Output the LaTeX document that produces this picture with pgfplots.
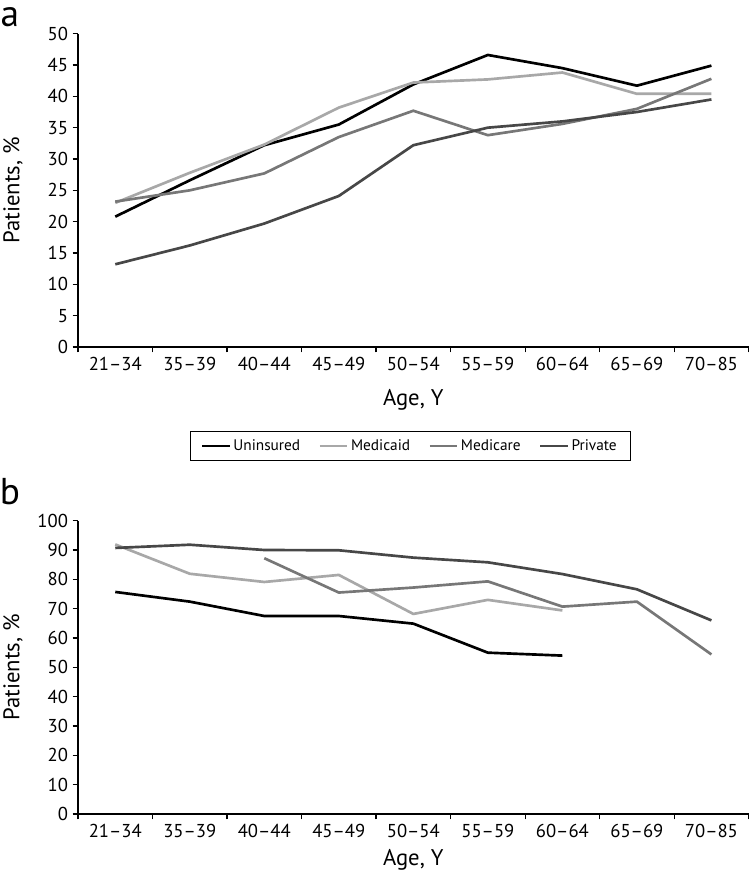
\documentclass[border=0pt]{standalone}
\usepackage{pgfplots}
\pgfplotsset{compat=1.18}
\usepackage{fontspec}
\setmainfont{PT Sans}

\definecolor{cUnins}{HTML}{000000}
\definecolor{cMedicaid}{HTML}{A8A8A8}
\definecolor{cMedicare}{HTML}{777777}
\definecolor{cPrivate}{HTML}{474747}

\pgfplotsset{
  panel/.style={
    scale only axis,
    width=503pt,
    xmin=0, xmax=9, ymin=0,
    axis lines*=left,
    axis line style={line width=0.9pt},
    tick style={black, line width=0.9pt},
    tick align=outside,
    major tick length=4pt,
    xtick={0,...,9},
    x tick label as interval,
    xticklabels={21--34,35--39,40--44,45--49,50--54,55--59,60--64,65--69,70--85},
    ticklabel style={font=\fontsize{14}{16}\selectfont},
    /pgf/number format/assume math mode=true,
    xlabel={Age, Y},
    ylabel={Patients, \%},
    label style={font=\fontsize{17}{20}\selectfont},
    ylabel style={at={(axis description cs:-0.097,0.5)}, anchor=center},
    clip=false,
  },
  every axis plot/.append style={line width=2pt, line join=round, no marks},
}

\begin{document}
\begin{tikzpicture}
\path[use as bounding box] (-58.5pt,260.25pt) rectangle (504.75pt,-399.75pt);

% panel a
\begin{axis}[panel,
  height=235pt,
  ymax=50, ytick distance=5,
  xlabel style={at={(axis description cs:0.5,-0.169)}, anchor=center},
  legend columns=4,
  legend style={at={(axis description cs:0.4955,-0.316)}, anchor=center,
    draw=black, line width=0.8pt, font=\fontsize{11.5}{14}\selectfont,
    inner xsep=8pt, inner ysep=4pt,
    /tikz/every even column/.append style={column sep=12pt}},
  legend image code/.code={\draw[#1, line width=1.6pt] (0cm,0cm) -- (0.72cm,0cm);},
]
\addplot[color=cUnins] coordinates {(0.5,20.8) (1.5,26.6) (2.5,32.2) (3.5,35.5) (4.5,41.9) (5.5,46.6) (6.5,44.5) (7.5,41.7) (8.5,44.9)};
\addplot[color=cMedicaid] coordinates {(0.5,23.0) (1.5,27.8) (2.5,32.3) (3.5,38.2) (4.5,42.2) (5.5,42.7) (6.5,43.8) (7.5,40.4) (8.5,40.4)};
\addplot[color=cMedicare] coordinates {(0.5,23.2) (1.5,25.0) (2.5,27.7) (3.5,33.5) (4.5,37.7) (5.5,33.8) (6.5,35.6) (7.5,38.0) (8.5,42.8)};
\addplot[color=cPrivate] coordinates {(0.5,13.2) (1.5,16.2) (2.5,19.7) (3.5,24.1) (4.5,32.2) (5.5,35.0) (6.5,36.0) (7.5,37.5) (8.5,39.5)};
\legend{Uninsured, Medicaid, Medicare, Private}
\end{axis}
\node[font=\fontsize{28}{32}\selectfont, anchor=base] at (-51pt,240pt) {a};

% panel b
\begin{axis}[panel,
  at={(0pt,-350.25pt)},
  height=220pt,
  ymax=100, ytick distance=10,
  xlabel style={at={(axis description cs:0.5,-0.155)}, anchor=center},
]
\addplot[color=cUnins] coordinates {(0.5,75.7) (1.5,72.4) (2.5,67.5) (3.5,67.5) (4.5,64.9) (5.5,55.0) (6.5,54.0)};
\addplot[color=cMedicaid] coordinates {(0.5,91.9) (1.5,81.9) (2.5,79.1) (3.5,81.5) (4.5,68.2) (5.5,73.0) (6.5,69.4)};
\addplot[color=cMedicare] coordinates {(2.5,87.2) (3.5,75.5) (4.5,77.2) (5.5,79.3) (6.5,70.7) (7.5,72.4) (8.5,54.4)};
\addplot[color=cPrivate] coordinates {(0.5,90.7) (1.5,91.8) (2.5,90.0) (3.5,89.9) (4.5,87.4) (5.5,85.8) (6.5,81.8) (7.5,76.6) (8.5,66.0)};
\end{axis}
\node[font=\fontsize{28}{32}\selectfont, anchor=base] at (-51pt,-118pt) {b};
\end{tikzpicture}
\end{document}
